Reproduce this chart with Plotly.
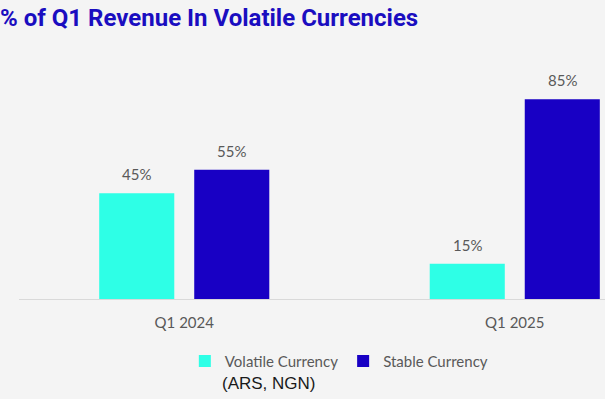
import plotly.graph_objects as go

categories = ["Q1 2024", "Q1 2025"]
volatile = [45, 15]
stable = [55, 85]
series_names = ["Volatile Currency", "Stable Currency"]
colors = ["#2EFFE6", "#1800C4"]

LABEL_FONT = "Lato, 'Open Sans', sans-serif"
GRAY = "#595959"

fig = go.Figure()
for name, vals, col in zip(series_names, [volatile, stable], colors):
    fig.add_trace(go.Bar(
        x=categories, y=vals, name=name,
        marker=dict(color=col, line=dict(width=0)),
        hoverinfo="x+y+name",
    ))

# value labels placed above each bar via the axes' scales
GROUP_SHIFT = 47.5  # px offset of each bar inside its group
for k, vals in enumerate([volatile, stable]):
    for cat, v in zip(categories, vals):
        fig.add_annotation(
            x=cat, y=v, xref="x", yref="y", text=f"{v}%", showarrow=False,
            xshift=(-GROUP_SHIFT if k == 0 else GROUP_SHIFT), yshift=8,
            yanchor="bottom", xanchor="center",
            font=dict(family=LABEL_FONT, size=15, color=GRAY),
        )

fig.update_layout(
    width=605, height=399,
    margin=dict(l=19, r=0, t=64, b=100),
    paper_bgcolor="#F4F4F4", plot_bgcolor="#F4F4F4",
    barmode="group", bargap=0.425, bargroupgap=0.21,
    title=dict(
        text="<b>% of Q1 Revenue In Volatile Currencies</b>",
        x=0.0, xanchor="left", xref="container", y=0.978, yanchor="top", yref="container",
        font=dict(family="Roboto, sans-serif", size=24, color="#1A0DC0"),
        pad=dict(l=0, t=0),
    ),
    xaxis=dict(
        range=[-0.5, 1.273], showgrid=False, showline=True, linecolor="#D9D9D9", linewidth=1,
        ticks="", ticklabelstandoff=10,
        tickfont=dict(family=LABEL_FONT, size=15, color=GRAY), fixedrange=True,
    ),
    yaxis=dict(range=[0, 100], visible=False, showgrid=False, zeroline=False, fixedrange=True),
    legend=dict(
        orientation="h", x=0.283, xanchor="left", y=-0.265, yanchor="middle",
        font=dict(family=LABEL_FONT, size=15, color=GRAY), bgcolor="rgba(0,0,0,0)",
        traceorder="normal",
    ),
    showlegend=True,
)

fig.add_annotation(
    text="(ARS, NGN)", xref="paper", yref="paper", x=(220 - 19) / 586, xanchor="left",
    y=-0.36, yanchor="middle", showarrow=False,
    font=dict(family="'Liberation Sans', Arial, sans-serif", size=17, color="#1a1a1a"),
)

fig.write_html("out.html", config={"displayModeBar": False},
               post_script="document.body.style.margin='0';")
